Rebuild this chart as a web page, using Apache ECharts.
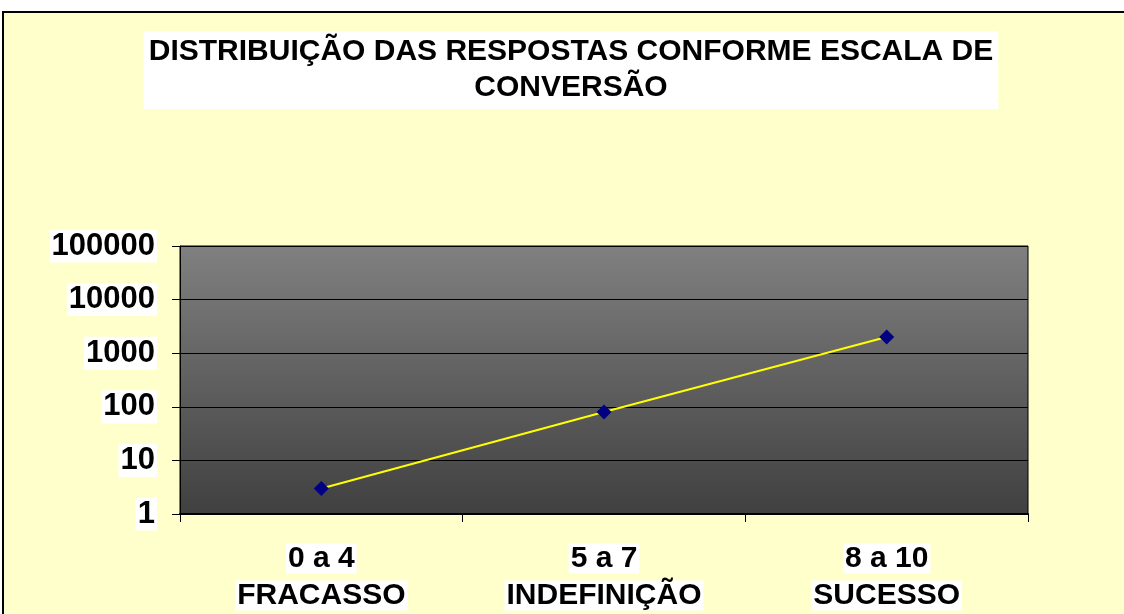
<!DOCTYPE html>
<html lang="pt">
<head>
  <meta charset="UTF-8">
  <title>Distribuição das respostas</title>
  <script src="https://cdn.jsdelivr.net/npm/echarts@6/dist/echarts.min.js"></script>
  <style>
    html, body { margin: 0; padding: 0; background: #fff; }
  </style>
</head>
<body>
  <div id="chart" style="width: 1124px; height: 614px"></div>
  <script>
    const faixas = ['0 a 4', '5 a 7', '8 a 10']
    const rotulos = ['FRACASSO', 'INDEFINIÇÃO', 'SUCESSO']
    const respostas = [3, 80, 2000]
    const yTicks = [1, 10, 100, 1000, 10000, 100000]

    const dom = document.getElementById('chart')
    const myChart = echarts.init(dom)

    const categorias = faixas.map((f, i) => f + '\n' + rotulos[i])

    const option = {
      backgroundColor: '#fff',
      animation: false,
      graphic: [{
        type: 'rect',
        z: -10,
        shape: { x: 3, y: 12, width: 1200, height: 700 },
        style: { fill: '#FFFFCC', stroke: '#000', lineWidth: 2 }
      }],
      title: {
        text: 'DISTRIBUIÇÃO DAS RESPOSTAS CONFORME ESCALA DE\nCONVERSÃO',
        left: 566,
        top: 31,
        padding: [3, 5],
        backgroundColor: '#fff',
        textAlign: 'center',
        textStyle: {
          fontFamily: 'Liberation Sans, Arial',
          fontWeight: 'bold',
          fontSize: 30,
          lineHeight: 36,
          color: '#000'
        }
      },
      grid: {
        left: 180,
        right: 96,
        top: 246,
        bottom: 100,
        show: true,
        borderColor: '#000',
        borderWidth: 1,
        backgroundColor: {
          type: 'linear', x: 0, y: 0, x2: 0, y2: 1,
          colorStops: [
            { offset: 0, color: '#808080' },
            { offset: 1, color: '#404040' }
          ]
        }
      },
      xAxis: {
        type: 'category',
        data: categorias,
        boundaryGap: true,
        axisLine: { lineStyle: { color: '#000', width: 2 } },
        axisTick: { show: true, length: 8, lineStyle: { color: '#000' } },
        axisLabel: {
          margin: 26,
          interval: 0,
          formatter: v => v.split('\n').map(s => '{a|' + s + '}').join('\n'),
          rich: {
            a: {
              fontFamily: 'Liberation Sans, Arial',
              fontWeight: 'bold',
              fontSize: 30,
              lineHeight: 37,
              color: '#000',
              backgroundColor: '#fff',
              padding: [0, 2]
            }
          }
        }
      },
      yAxis: {
        type: 'log',
        logBase: 10,
        min: yTicks[0],
        max: yTicks[yTicks.length - 1],
        axisLine: { show: true, lineStyle: { color: '#000' } },
        axisTick: { show: true, length: 8, lineStyle: { color: '#000' } },
        splitLine: { show: true, lineStyle: { color: '#000', width: 1 } },
        axisLabel: {
          margin: 23,
          formatter: v => String(Math.round(v)),
          fontFamily: 'Liberation Sans, Arial',
          fontWeight: 'bold',
          fontSize: 31,
          color: '#000',
          backgroundColor: '#fff',
          padding: [1, 2]
        }
      },
      series: [{
        type: 'line',
        data: respostas,
        symbol: 'diamond',
        symbolSize: 15,
        itemStyle: { color: '#000080' },
        lineStyle: { color: '#FFFF00', width: 2 },
        z: 5
      }]
    }

    myChart.setOption(option)
  </script>
</body>
</html>
